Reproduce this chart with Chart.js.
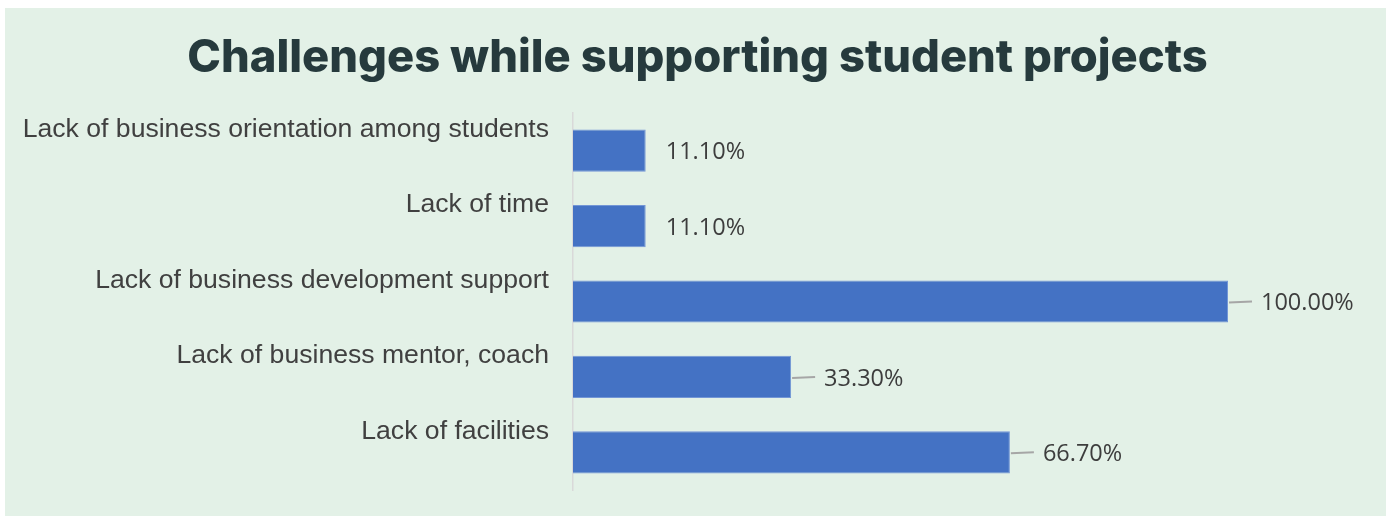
<!DOCTYPE html>
<html lang="en">

<head>
    <meta charset="UTF-8">
    <title>Challenges while supporting student projects</title>
    <script src="https://cdn.jsdelivr.net/npm/chart.js"></script>
    <style>
        body {
            margin: 0;
            background: #ffffff;
        }

        .painel {
            position: absolute;
            left: 5px;
            top: 8px;
            width: 1381px;
            height: 508px;
            background: #e3f1e7;
        }
    </style>
</head>

<body>
    <div class="painel">
        <canvas id="graficoDesafios" width="1381" height="508"></canvas>
    </div>

    <script>
        // dados do gráfico
        const categorias = [
            'Lack of business orientation among students',
            'Lack of time',
            'Lack of business development support',
            'Lack of business mentor, coach',
            'Lack of facilities'
        ];
        const percentuais = [11.1, 11.1, 100, 33.3, 66.7];
        const titulo = 'Challenges while supporting student projects';

        // título centralizado na largura toda do painel
        const tituloPainel = {
            id: 'tituloPainel',
            beforeDraw(chart) {
                const ctx = chart.ctx;
                ctx.save();
                ctx.font = '800 45.3px Inter';
                ctx.fillStyle = '#263a3d';
                ctx.textAlign = 'center';
                ctx.textBaseline = 'alphabetic';
                ctx.fillText(titulo, chart.width / 2 + 2, 64);
                ctx.restore();
            }
        };

        // rótulos de valor ao lado das barras (com linha guia nas barras maiores)
        const rotulosValor = {
            id: 'rotulosValor',
            afterDatasetsDraw(chart) {
                const ctx = chart.ctx;
                const meta = chart.getDatasetMeta(0);
                ctx.save();
                ctx.font = '23.5px "Open Sans"';
                ctx.fillStyle = '#3d3d3d';
                ctx.textBaseline = 'middle';
                ctx.textAlign = 'left';
                meta.data.forEach((barra, i) => {
                    const valor = percentuais[i];
                    const x = barra.x;
                    const y = barra.y;
                    let inicioTexto = x + 20;
                    if (valor > 20) {
                        ctx.strokeStyle = '#a6a6a6';
                        ctx.lineWidth = 2;
                        ctx.beginPath();
                        ctx.moveTo(x + 1, y + 1);
                        ctx.lineTo(x + 24, y);
                        ctx.stroke();
                        inicioTexto = x + 33;
                    }
                    ctx.fillText(valor.toFixed(2) + '%', inicioTexto, y + 2);
                });
                ctx.restore();
            }
        };

        const dados = {
            labels: categorias,
            datasets: [{
                label: 'Percentual',
                data: percentuais,
                backgroundColor: '#4472c4',
                borderColor: '#7396d6',
                borderWidth: 1,
                borderSkipped: 'start',
                barPercentage: 0.56,
                categoryPercentage: 1
            }]
        };

        const config = {
            type: 'bar',
            data: dados,
            options: {
                indexAxis: 'y',
                responsive: false,
                animation: false,
                layout: {
                    padding: { left: 0, right: 158, top: 105, bottom: 26 }
                },
                scales: {
                    x: {
                        display: false,
                        min: 0,
                        max: 100
                    },
                    y: {
                        // tickLength afasta os rótulos do eixo sem desenhar marcas
                        grid: { display: false, drawTicks: true, tickLength: 24 },
                        border: { display: true, color: '#d9d9d9', width: 1.5 },
                        afterFit(escala) {
                            escala.width = 568;
                        },
                        ticks: {
                            padding: 0,
                            labelOffset: -21,
                            color: '#404040',
                            font: { family: '"Liberation Sans", Arial', size: 26.6 }
                        }
                    }
                },
                plugins: {
                    legend: { display: false },
                    tooltip: { enabled: false },
                    title: { display: false }
                }
            },
            plugins: [tituloPainel, rotulosValor]
        };

        new Chart(document.getElementById('graficoDesafios'), config);
    </script>
</body>

</html>
